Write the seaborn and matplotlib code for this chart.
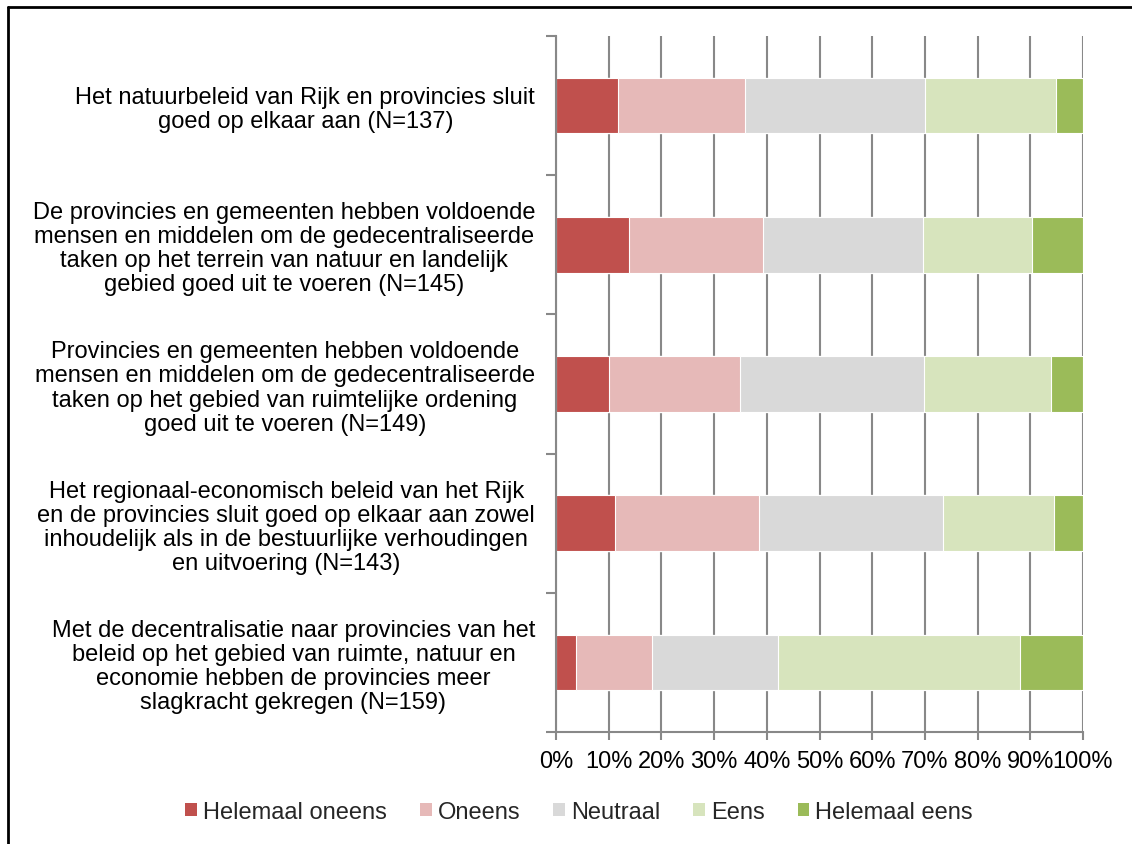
import pandas as pd
import numpy as np
import matplotlib.pyplot as plt
import seaborn as sns
from matplotlib.lines import Line2D
from matplotlib.patches import Patch
from matplotlib.ticker import FixedLocator, PercentFormatter

# Statements (y categories)
statements = [
    "Het natuurbeleid van Rijk en provincies sluit\ngoed op elkaar aan (N=137)",
    "De provincies en gemeenten hebben voldoende\nmensen en middelen om de gedecentraliseerde\ntaken op het terrein van natuur en landelijk\ngebied goed uit te voeren (N=145)",
    "Provincies en gemeenten hebben voldoende\nmensen en middelen om de gedecentraliseerde\ntaken op het gebied van ruimtelijke ordening\ngoed uit te voeren (N=149)",
    "Het regionaal-economisch beleid van het Rijk\nen de provincies sluit goed op elkaar aan zowel\ninhoudelijk als in de bestuurlijke verhoudingen\nen uitvoering (N=143)",
    "Met de decentralisatie naar provincies van het\nbeleid op het gebied van ruimte, natuur en\neconomie hebben de provincies meer\nslagkracht gekregen (N=159)",
]

answers = ["Helemaal oneens", "Oneens", "Neutraal", "Eens", "Helemaal eens"]

# shares per answer (%)
helemaal_oneens = [11.7, 13.8, 10.1, 11.2, 3.8]
oneens = [24.1, 25.5, 24.8, 27.3, 14.5]
neutraal = [34.3, 30.3, 34.9, 35.0, 23.9]
eens = [24.8, 20.7, 24.2, 21.0, 45.9]
helemaal_eens = [5.1, 9.7, 6.0, 5.6, 11.9]

colors = ["#C0504D", "#E6B9B8", "#D9D9D9", "#D7E4BD", "#9BBB59"]

df = pd.DataFrame({
    "statement": statements,
    "Helemaal oneens": helemaal_oneens,
    "Oneens": oneens,
    "Neutraal": neutraal,
    "Eens": eens,
    "Helemaal eens": helemaal_eens,
})
# normalise to 100% and build cumulative columns for stacking
tot = df[answers].sum(axis=1)
for a in answers:
    df[a] = df[a] / tot * 100
cum = df[answers].cumsum(axis=1)

sns.set_style("white")
plt.rcParams['font.family'] = ['Liberation Sans', 'DejaVu Sans']
FS = 17

fig = plt.figure(figsize=(11.32, 8.45), dpi=100)
ax = fig.add_axes([556 / 1132, 1 - 733 / 845, (1083 - 556) / 1132, (733 - 37) / 845])

# draw from the largest cumulative value down so segments overlap correctly
for a, c in reversed(list(zip(answers, colors))):
    sns.barplot(x=cum[a], y=df["statement"], color=c, orient="h", width=0.4,
                ax=ax, saturation=1, linewidth=0.8, edgecolor="white")

ax.set_xlim(0, 100)
ax.set_ylim(4.5, -0.5)
ax.set_xlabel("")
ax.set_ylabel("")

grid_c = "#888888"
ax.xaxis.set_major_locator(FixedLocator(np.arange(0, 101, 10)))
ax.xaxis.set_major_formatter(PercentFormatter(decimals=0))
ax.grid(axis="x", color=grid_c, linewidth=1.5)
ax.set_axisbelow(True)

for s in ["top", "right"]:
    ax.spines[s].set_visible(False)
for s in ["left", "bottom"]:
    ax.spines[s].set_color(grid_c)
    ax.spines[s].set_linewidth(1.5)

ax.tick_params(axis="x", which="major", length=6, width=1.5, color=grid_c,
               direction="out", bottom=True, pad=7, labelsize=FS, labelcolor="black")
ax.tick_params(axis="y", which="major", length=0, pad=15, labelsize=FS, labelcolor="black")
ax.yaxis.set_minor_locator(FixedLocator(np.arange(-0.5, 5, 1)))
ax.tick_params(axis="y", which="minor", length=7, width=1.5, color=grid_c,
               direction="out", left=True)
for t in ax.get_yticklabels():
    t.set_multialignment("center")
    t.set_linespacing(1.12)

handles = [Patch(facecolor=c, edgecolor="none") for c in colors]
fig.legend(handles, answers, loc="center", bbox_to_anchor=(579 / 1132, 1 - 813 / 845),
           ncol=5, frameon=False, fontsize=FS, handlelength=0.5, handleheight=0.5,
           handletextpad=0.25, columnspacing=1.4)

# outer chart border (top and left edges visible)
fig.add_artist(Line2D([8 / 1132, 1], [1 - 8 / 845, 1 - 8 / 845], color="black",
                      linewidth=2, transform=fig.transFigure))
fig.add_artist(Line2D([8 / 1132, 8 / 1132], [0, 1 - 8 / 845], color="black",
                      linewidth=2, transform=fig.transFigure))

fig.savefig("out.png", dpi=100)
